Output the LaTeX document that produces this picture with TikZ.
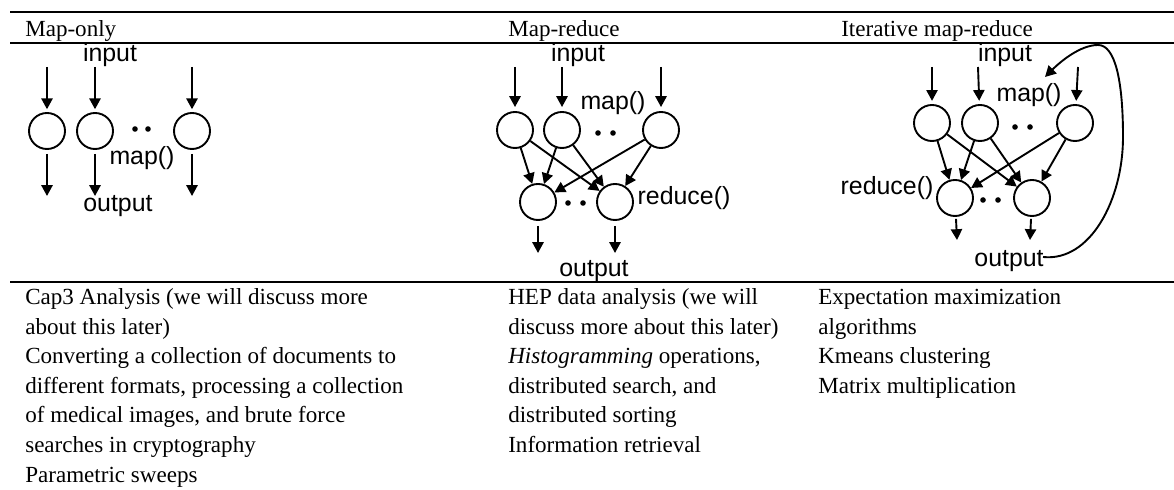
\documentclass[tikz,border=0pt]{standalone}
\usepackage{fontspec}
\setmainfont{Liberation Serif}
\setsansfont{Liberation Sans}
\usetikzlibrary{arrows.meta}

\begin{document}
\begin{tikzpicture}[x=0.025cm, y=-0.025cm,
    proc/.style={circle, draw, line width=1.35pt, minimum size=0.9cm, inner sep=0pt},
    dot/.style={circle, fill, inner sep=0pt, minimum size=0.14cm},
    arr/.style={line width=1.35pt, -{Triangle[length=0.27cm, width=0.28cm]}},
    lbl/.style={anchor=base, inner sep=0pt, font=\sffamily\fontsize{17.7}{20}\selectfont},
    hdr/.style={anchor=base west, inner sep=0pt, font=\fontsize{16.4}{21}\selectfont},
    body/.style={anchor=base west, inner sep=0pt, align=left, font=\fontsize{16.4}{21}\selectfont},
    rule/.style={line width=1.2pt}]
    %%%%% START %%%%%
    \useasboundingbox (0,0) rectangle (1174,490);

    % table rules and headings
    \draw[rule] (10,12) -- (1174,12);
    \draw[rule] (10,43) -- (1174,43);
    \draw[rule] (10,282) -- (1174,282);
    \node[hdr] (h1) at (25,37) {Map-only};
    \node[hdr] (h2) at (508,37) {Map-reduce};
    \node[hdr] (h3) at (841,37) {Iterative map-reduce};

    %%%%% map-only %%%%%
    \node[proc] (a1) at (47,131) {};
    \node[proc] (a2) at (95,131) {};
    \node[proc] (a3) at (192,131) {};
    \node[dot] (ad1) at (135,129) {};
    \node[dot] (ad2) at (148,129) {};
    \coordinate (ai1) at (47,67);
    \coordinate (ai2) at (95,67);
    \coordinate (ai3) at (192,67);
    \coordinate (ao1) at (47,196);
    \coordinate (ao2) at (95,196);
    \coordinate (ao3) at (192,196);
    \foreach \i in {1,2,3} {
        \draw[arr, shorten >=0.07cm] (ai\i) -- (a\i);
        \draw[arr, shorten <=0.1cm] (a\i) -- (ao\i);
    }
    \node[lbl] (ainp) at (110,62) {input};
    \node[lbl] (amap) at (142,165) {map()};
    \node[lbl] (aout) at (118,212) {output};

    %%%%% map-reduce %%%%%
    \node[proc] (b1) at (515,130) {};
    \node[proc] (b2) at (562,130) {};
    \node[proc] (b3) at (661,130) {};
    \node[proc] (c1) at (538,202) {};
    \node[proc] (c2) at (615,202) {};
    \node[dot] (bd1) at (598,133) {};
    \node[dot] (bd2) at (613,133) {};
    \node[dot] (cd1) at (568,203) {};
    \node[dot] (cd2) at (583,203) {};
    \coordinate (bi1) at (515,67);
    \coordinate (bi2) at (562,67);
    \coordinate (bi3) at (661,67);
    \coordinate (co1) at (538,253);
    \coordinate (co2) at (615,253);
    \foreach \i in {1,2,3} {
        \draw[arr, shorten >=0.1cm] (bi\i) -- (b\i);
        \draw[arr] (b\i) -- (c1);
        \draw[arr] (b\i) -- (c2);
    }
    \foreach \i in {1,2}
        \draw[arr, shorten <=0.12cm] (c\i) -- (co\i);
    \node[lbl] (binp) at (578,62) {input};
    \node[lbl] (bmap) at (613,110) {map()};
    \node[lbl] (bred) at (684,205) {reduce()};
    \node[lbl] (bout) at (594,277) {output};

    %%%%% iterative map-reduce %%%%%
    \node[proc] (d1) at (932,123) {};
    \node[proc] (d2) at (980,123) {};
    \node[proc] (d3) at (1075,123) {};
    \node[proc] (e1) at (955,198) {};
    \node[proc] (e2) at (1032,198) {};
    \node[dot] (dd1) at (1015,127) {};
    \node[dot] (dd2) at (1030,127) {};
    \node[dot] (ed1) at (983,200) {};
    \node[dot] (ed2) at (998,200) {};
    \coordinate (di1) at (932,67);
    \coordinate (di2) at (978,67);
    \coordinate (di3) at (1078,67);
    \coordinate (eo1) at (957,240);
    \coordinate (eo2) at (1030,240);
    \foreach \i in {1,2,3} {
        \draw[arr, shorten >=0.08cm] (di\i) -- (d\i);
        \draw[arr] (d\i) -- (e1);
        \draw[arr] (d\i) -- (e2);
    }
    \foreach \i in {1,2}
        \draw[arr, shorten <=0.05cm] (e\i) -- (eo\i);
    \node[lbl] (dinp) at (1005,62) {input};
    \node[lbl] (dmap) at (1029,102) {map()};
    \node[lbl] (ered) at (887,195) {reduce()};
    \node[lbl] (eout) at (1009,267) {output};
    % feedback loop
    \coordinate (lpa) at (1043,257);
    \coordinate (lpb) at (1045,77);
    \draw[arr] (lpa) .. controls (1090,262) and (1123,200) .. (1123,137)
        .. controls (1123,80) and (1115,45) .. (1098,45)
        .. controls (1080,45) and (1060,62) .. (lpb);

    %%%%% examples (base = last line) %%%%%
    \node[body] (t1) at (25,482) {Cap3 Analysis (we will discuss more\\
        about this later)\\
        Converting a collection of documents to\\
        different formats, processing a collection\\
        of medical images, and brute force\\
        searches in cryptography\\
        Parametric sweeps};
    \node[body] (t2) at (508,452.5) {HEP data analysis (we will\\
        discuss more about this later)\\
        \textit{Histogramming} operations,\\
        distributed search, and\\
        distributed sorting\\
        Information retrieval};
    \node[body] (t3) at (818,393.5) {Expectation maximization\\
        algorithms\\
        Kmeans clustering\\
        Matrix multiplication};
    %%%%% END %%%%%
\end{tikzpicture}
\end{document}
